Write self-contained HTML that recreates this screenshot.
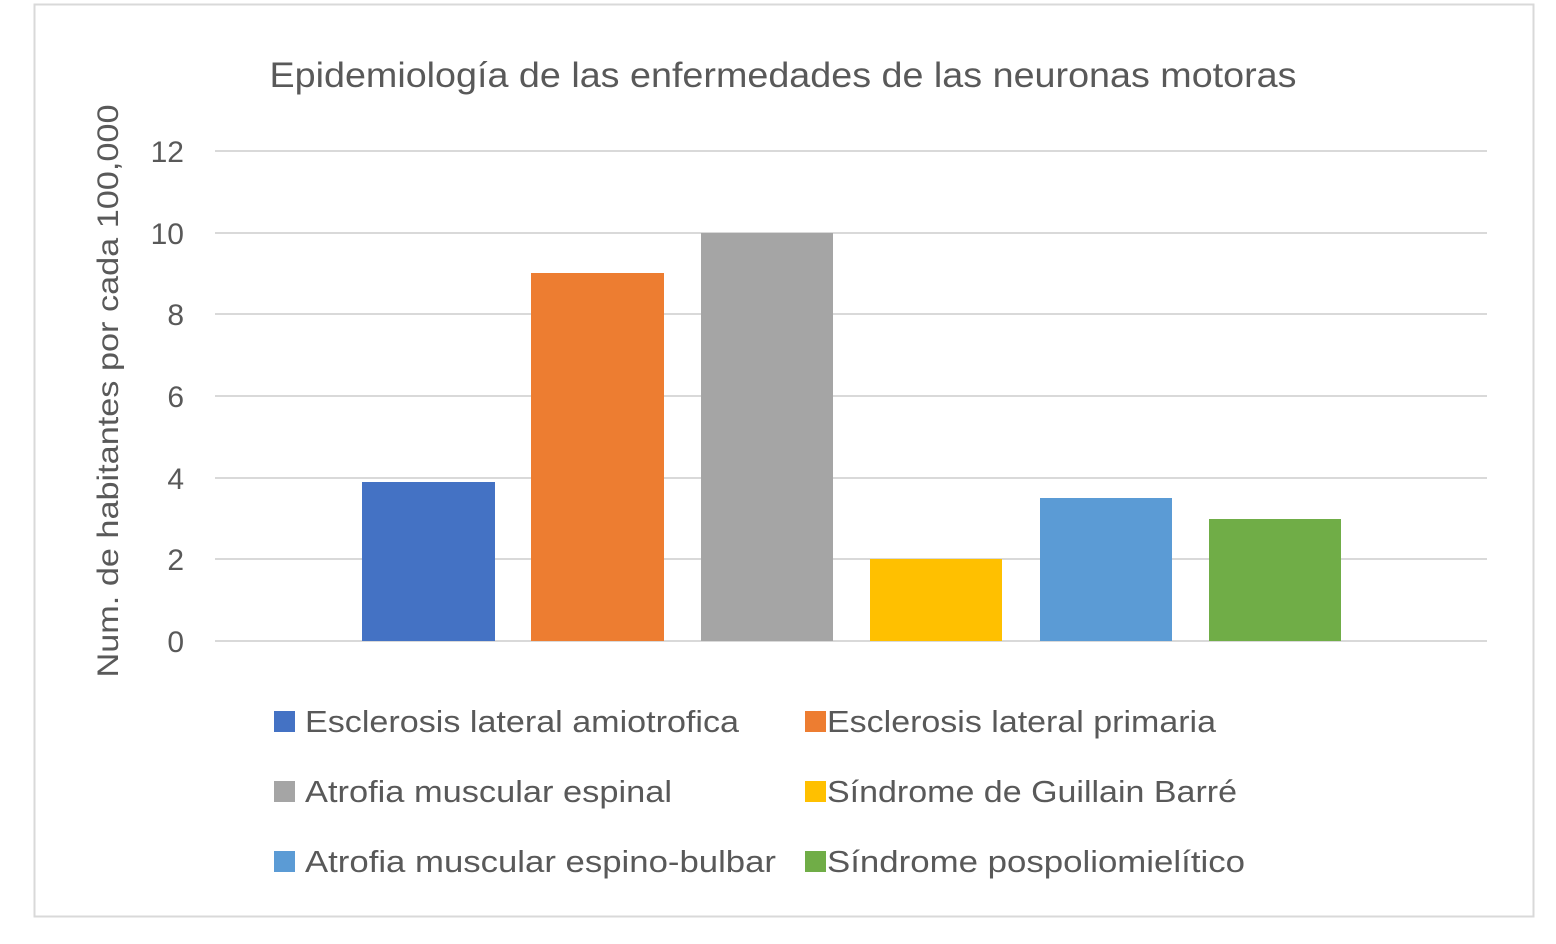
<!DOCTYPE html>
<html><head><meta charset="utf-8"><style>body{margin:0;background:#fff}</style></head><body>
<svg width="1556" height="939" xmlns="http://www.w3.org/2000/svg" font-family="Liberation Sans, sans-serif">
<rect x="0" y="0" width="1556" height="939" fill="#fff"/>
<rect x="34.5" y="4.5" width="1499" height="912" fill="#fff" stroke="#d9d9d9" stroke-width="2"/>
<text x="783" y="87" font-size="35" fill="#595959" text-anchor="middle" textLength="1027" lengthAdjust="spacingAndGlyphs">Epidemiología de las enfermedades de las neuronas motoras</text>
<g stroke="#d9d9d9" stroke-width="2">
<line x1="215" x2="1487" y1="151" y2="151"/><line x1="215" x2="1487" y1="233" y2="233"/>
<line x1="215" x2="1487" y1="314" y2="314"/><line x1="215" x2="1487" y1="396" y2="396"/>
<line x1="215" x2="1487" y1="478" y2="478"/><line x1="215" x2="1487" y1="559" y2="559"/>
<line x1="215" x2="1487" y1="641" y2="641"/></g>
<g font-size="30" fill="#595959" text-anchor="end">
<text x="184" y="162">12</text><text x="184" y="244">10</text><text x="184" y="325">8</text>
<text x="184" y="407">6</text><text x="184" y="489">4</text><text x="184" y="570">2</text><text x="184" y="652">0</text></g>
<text transform="translate(118,391) rotate(-90)" font-size="30" fill="#595959" text-anchor="middle" textLength="573" lengthAdjust="spacingAndGlyphs">Num. de habitantes por cada 100,000</text>
<rect x="362" y="482" width="133" height="159" fill="#4472C4"/>
<rect x="531" y="273" width="133" height="368" fill="#ED7D31"/>
<rect x="701" y="233" width="132" height="408" fill="#A5A5A5"/>
<rect x="870" y="559" width="132" height="82" fill="#FFC000"/>
<rect x="1040" y="498" width="132" height="143" fill="#5B9BD5"/>
<rect x="1209" y="519" width="132" height="122" fill="#70AD47"/>
<g font-size="31" fill="#595959">
<rect x="274" y="711" width="21" height="21" fill="#4472C4"/><text x="305" y="732" textLength="434" lengthAdjust="spacingAndGlyphs">Esclerosis lateral amiotrofica</text>
<rect x="805" y="711" width="21" height="21" fill="#ED7D31"/><text x="827" y="732" textLength="389" lengthAdjust="spacingAndGlyphs">Esclerosis lateral primaria</text>
<rect x="274" y="781" width="21" height="21" fill="#A5A5A5"/><text x="305" y="802" textLength="367" lengthAdjust="spacingAndGlyphs">Atrofia muscular espinal</text>
<rect x="805" y="781" width="21" height="21" fill="#FFC000"/><text x="827" y="802" textLength="410" lengthAdjust="spacingAndGlyphs">Síndrome de Guillain Barré</text>
<rect x="274" y="851" width="21" height="21" fill="#5B9BD5"/><text x="305" y="872" textLength="471" lengthAdjust="spacingAndGlyphs">Atrofia muscular espino-bulbar</text>
<rect x="805" y="851" width="21" height="21" fill="#70AD47"/><text x="827" y="872" textLength="418" lengthAdjust="spacingAndGlyphs">Síndrome pospoliomielítico</text>
</g>
</svg>
</body></html>
